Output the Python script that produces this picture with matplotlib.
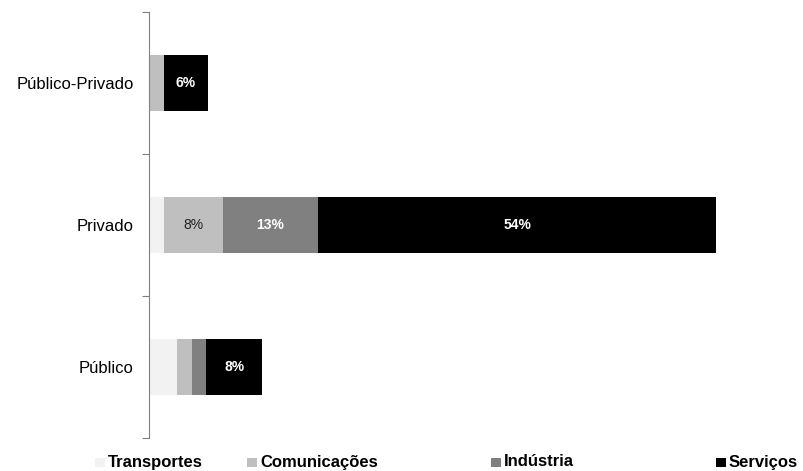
import matplotlib
matplotlib.use('Agg')

import matplotlib.pyplot as plt
from matplotlib.patches import Rectangle

plt.rcParams['font.family'] = ['Liberation Sans', 'DejaVu Sans']

categories = ["Público", "Privado", "Público-Privado"]
sectors    = ["Transportes", "Comunicações", "Indústria", "Serviços"]
values = {
    "Transportes":  [3.8, 2.0, 0.0],
    "Comunicações": [2.0, 8.0, 2.0],
    "Indústria":    [2.0, 13.0, 0.0],
    "Serviços":     [7.6, 54.0, 6.0],
}
colors     = ["#f2f2f2", "#bfbfbf", "#808080", "#000000"]
text_cols  = ["black", "#222222", "white", "white"]
text_bold  = [False, False, True, True]

fig = plt.figure(figsize=(8.04, 4.71), dpi=100)
ax = fig.add_axes([149 / 804, 33 / 471, 645 / 804, 426 / 471])

ypos = list(range(len(categories)))
left = [0.0] * len(categories)
for k, s in enumerate(sectors):
    vals = values[s]
    ax.barh(ypos, vals, left=left, height=0.4, color=colors[k], edgecolor="none")
    for i, v in enumerate(vals):
        if v >= 5:
            ax.text(left[i] + v / 2, ypos[i], f"{round(v)}%", ha="center", va="center",
                    color=text_cols[k], fontsize=10,
                    fontweight="bold" if text_bold[k] else "normal")
    left = [a + b for a, b in zip(left, vals)]

ax.set_xlim(0, 645 / 7.36)
ax.set_ylim(-0.5, len(categories) - 0.5)
ax.set_xticks([])
ax.set_yticks([i - 0.5 for i in range(len(categories) + 1)])
ax.set_yticklabels([])
ax.set_yticks(ypos, minor=True)
ax.set_yticklabels(categories, minor=True, fontsize=12)
ax.tick_params(axis="y", which="major", length=5, color="#808080", direction="out")
ax.tick_params(axis="y", which="minor", length=0, pad=11)
for sp in ["top", "right", "bottom"]:
    ax.spines[sp].set_visible(False)
ax.spines["left"].set_color("#808080")

# legend along the bottom edge
leg_x = [95, 247, 491, 716]
for k, s in enumerate(sectors):
    x0 = leg_x[k] / 804
    fig.add_artist(Rectangle((x0, 4 / 471), 10 / 804, 9 / 471, transform=fig.transFigure,
                             facecolor=colors[k], edgecolor="none"))
    fig.text(x0 + 13 / 804, 4.5 / 471, s, ha="left", va="baseline", fontsize=12, fontweight="bold")

fig.savefig("out.png", dpi=100)
